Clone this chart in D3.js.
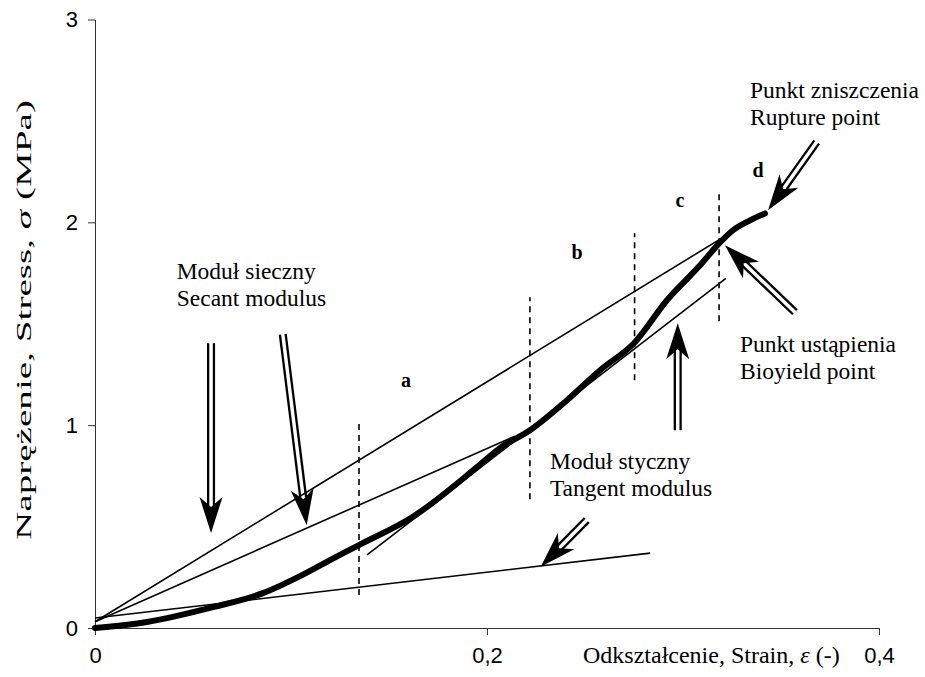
<!DOCTYPE html>
<html>
<head>
<meta charset="utf-8">
<script src="https://cdnjs.cloudflare.com/ajax/libs/d3/7.8.5/d3.min.js"></script>
<style>
    body { margin: 0; background: #ffffff; }
    .tick text { font-family: "Liberation Sans", Arial, sans-serif; font-size: 22px; fill: #000; }
    .serif { font-family: "Liberation Serif", "Times New Roman", serif; fill: #000; }
</style>
</head>
<body>
<svg id="viz" width="925" height="677"></svg>
<script>
// measured stress-strain curve
var curveStrain = [0, 0.0265, 0.0602, 0.0857, 0.1046, 0.1199, 0.1347, 0.1624, 0.1949, 0.2066, 0.2219,
                   0.2408, 0.2577, 0.2755, 0.2918, 0.3087, 0.3189, 0.3255, 0.3342, 0.3418];
var curveStress = [0, 0.030, 0.103, 0.172, 0.256, 0.335, 0.409, 0.550, 0.793, 0.887, 0.975,
                   1.123, 1.271, 1.409, 1.616, 1.788, 1.901, 1.961, 2.010, 2.044];

var xTicks = [0, 0.2, 0.4];
var xTickLabels = ["0", "0,2", "0,4"];
var yTicks = [0, 1, 2, 3];

// secant / tangent lines: strain0, stress0, strain1, stress1
var modulusLines = [
    [0, 0.031, 0.3204, 1.926],
    [0, 0.031, 0.2143, 0.946],
    [0, 0.049, 0.2832, 0.369],
    [0.1388, 0.360, 0.3219, 1.724]
];

// dashed region borders: strain, stress bottom, stress top
var regionBorders = [
    [0.1347, 0.163, 1.030],
    [0.2219, 0.635, 1.631],
    [0.2753, 1.222, 1.946],
    [0.3184, 1.512, 2.158]
];
var regionNames = ["a", "b", "c", "d"];
var regionStrain = [0.1587, 0.2459, 0.2985, 0.3383];
var regionStress = [1.187, 1.818, 2.074, 2.222];

// double arrows: from strain, from stress, to strain, to stress
var arrows = [
    [0.0592, 1.404, 0.0592, 0.468],
    [0.0958, 1.448, 0.1080, 0.507],
    [0.2973, 0.975, 0.2973, 1.502],
    [0.2509, 0.532, 0.2274, 0.302],
    [0.3571, 1.557, 0.3214, 1.887],
    [0.3682, 2.396, 0.3434, 2.059]
];

var noteLines = [
    ["Moduł sieczny", "Secant modulus"],
    ["Moduł styczny", "Tangent modulus"],
    ["Punkt ustąpienia", "Bioyield point"],
    ["Punkt zniszczenia", "Rupture point"]
];
var noteStrain = [0.0417, 0.2321, 0.3291, 0.3342];
var noteStress = [1.722, 0.782, 1.361, 2.611];

var width = 925, height = 677;
var svg = d3.select("#viz");

var x = d3.scaleLinear().domain([0, 0.4]).range([95, 879]);
var y = d3.scaleLinear().domain([0, 3]).range([628, 19.5]);

// axes
var xAxis = d3.axisBottom(x)
    .tickValues(xTicks)
    .tickSize(7)
    .tickSizeOuter(0)
    .tickPadding(12)
    .tickFormat(function (d, i) { return xTickLabels[i]; });

var yAxis = d3.axisLeft(y)
    .tickValues(yTicks)
    .tickSize(7)
    .tickSizeOuter(0)
    .tickPadding(10)
    .tickFormat(d3.format("d"));

var gx = svg.append("g").attr("transform", "translate(0," + y(0) + ")").call(xAxis);
var gy = svg.append("g").attr("transform", "translate(" + x(0) + ",0)").call(yAxis);
svg.selectAll(".domain, .tick line").attr("stroke", "#333").attr("stroke-width", 1);

// axis titles
var xt = svg.append("text")
    .attr("class", "serif")
    .attr("x", 583)
    .attr("y", 663)
    .style("font-size", "24px");
xt.append("tspan").text("Odkształcenie, Strain, ");
xt.append("tspan").style("font-style", "italic").text("ε");
xt.append("tspan").text(" (-)");

var yt = svg.append("text")
    .attr("class", "serif")
    .attr("transform", "translate(31,320) rotate(-90)")
    .attr("text-anchor", "middle")
    .attr("textLength", 440)
    .attr("lengthAdjust", "spacingAndGlyphs")
    .style("font-size", "22px");
yt.append("tspan").text("Naprężenie, Stress, ");
yt.append("tspan").style("font-style", "italic").text("σ");
yt.append("tspan").text(" (MPa)");

// dashed region borders
svg.append("g").selectAll("line")
    .data(regionBorders)
    .enter().append("line")
    .attr("x1", function (d) { return x(d[0]); })
    .attr("x2", function (d) { return x(d[0]); })
    .attr("y1", function (d) { return y(d[1]); })
    .attr("y2", function (d) { return y(d[2]); })
    .attr("stroke", "#000")
    .attr("stroke-width", 1.6)
    .attr("stroke-dasharray", "6,5");

// modulus lines
svg.append("g").selectAll("line")
    .data(modulusLines)
    .enter().append("line")
    .attr("x1", function (d) { return x(d[0]); })
    .attr("y1", function (d) { return y(d[1]); })
    .attr("x2", function (d) { return x(d[2]); })
    .attr("y2", function (d) { return y(d[3]); })
    .attr("stroke", "#000")
    .attr("stroke-width", 1.6);

// curve
var line = d3.line()
    .x(function (d, i) { return x(curveStrain[i]); })
    .y(function (d, i) { return y(curveStress[i]); })
    .curve(d3.curveMonotoneX);

svg.append("path")
    .datum(curveStress)
    .attr("d", line)
    .attr("fill", "none")
    .attr("stroke", "#000")
    .attr("stroke-width", 6)
    .attr("stroke-linecap", "round")
    .attr("stroke-linejoin", "round");

// double-line arrows with notched heads
function drawArrow(g, a) {
    var x0 = x(a[0]), y0 = y(a[1]), x1 = x(a[2]), y1 = y(a[3]);
    var dx = x1 - x0, dy = y1 - y0, len = Math.sqrt(dx * dx + dy * dy);
    var ux = dx / len, uy = dy / len, nx = -uy, ny = ux;
    var headLen = 36, headW = 11.5, notch = 26, off = 2.9;
    var ex = x1 - ux * (notch - 2), ey = y1 - uy * (notch - 2);
    [-off, off].forEach(function (o) {
        g.append("line")
            .attr("x1", x0 + nx * o).attr("y1", y0 + ny * o)
            .attr("x2", ex + nx * o).attr("y2", ey + ny * o)
            .attr("stroke", "#000")
            .attr("stroke-width", 2.3);
    });
    var pts = [
        [x1, y1],
        [x1 - ux * headLen + nx * headW, y1 - uy * headLen + ny * headW],
        [x1 - ux * notch, y1 - uy * notch],
        [x1 - ux * headLen - nx * headW, y1 - uy * headLen - ny * headW]
    ];
    g.append("path")
        .attr("d", "M" + pts.map(function (p) { return p[0] + "," + p[1]; }).join("L") + "Z")
        .attr("fill", "#000");
}

var ga = svg.append("g");
arrows.forEach(function (a) { drawArrow(ga, a); });

// region letters
svg.append("g").selectAll("text")
    .data(regionNames)
    .enter().append("text")
    .attr("class", "serif")
    .attr("x", function (d, i) { return x(regionStrain[i]); })
    .attr("y", function (d, i) { return y(regionStress[i]); })
    .attr("text-anchor", "middle")
    .style("font-size", "20px")
    .style("font-weight", "bold")
    .text(function (d) { return d; });

// notes
var notes = svg.append("g").selectAll("text")
    .data(noteLines)
    .enter().append("text")
    .attr("class", "serif")
    .attr("x", function (d, i) { return x(noteStrain[i]); })
    .attr("y", function (d, i) { return y(noteStress[i]); })
    .style("font-size", "23.5px");

notes.selectAll("tspan")
    .data(function (d) { return d; })
    .enter().append("tspan")
    .attr("x", function () { return d3.select(this.parentNode).attr("x"); })
    .attr("dy", function (d, i) { return i === 0 ? 0 : 27; })
    .text(function (d) { return d; });
</script>
</body>
</html>
